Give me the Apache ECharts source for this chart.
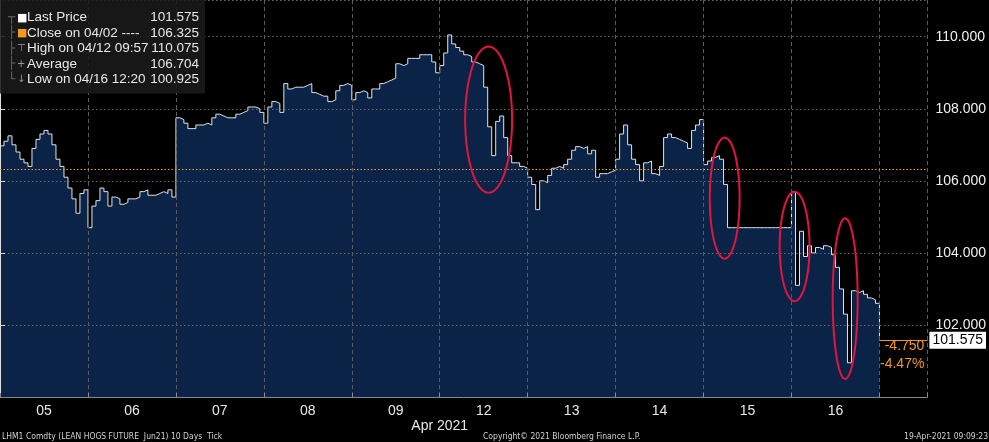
<!DOCTYPE html>
<html>
<head>
<meta charset="utf-8">
<script src="https://cdn.jsdelivr.net/npm/echarts@6/dist/echarts.min.js"></script>
<style>
html,body{margin:0;padding:0;background:#000;}
#chart{width:989px;height:442px;}
</style>
</head>
<body>
<div id="chart"></div>
<script>
// ---- data ----
const dayLabels = ['05','06','07','08','09','12','13','14','15','16'];
const monthLabel = 'Apr 2021';

const day05 = [106.97,107.1,107.25,107.0,106.8,106.6,106.5,106.4,106.9,107.15,107.3,107.4,107.3,107.0,106.6,106.4,106.1,105.8,105.5,105.1,105.65,105.75];
const day06 = [104.7,105.3,105.45,105.8,105.7,105.3,105.55,105.5,105.35,105.4,105.5,105.5,105.55,105.7,105.75,105.6,105.6,105.65,105.7,105.65,105.75,105.55];
const day07 = [107.75,107.7,107.6,107.45,107.45,107.55,107.55,107.6,107.55,107.75,107.85,107.8,107.75,107.75,107.75,107.85,107.9,107.95,108.05,108.05,108.0,107.9];
const day08 = [107.6,108.05,108.2,108.15,107.9,108.7,108.55,108.6,108.6,108.6,108.65,108.7,108.45,108.4,108.35,108.35,108.2,108.25,108.5,108.65,108.7,108.65];
const day09 = [108.25,108.45,108.5,108.45,108.3,108.55,108.55,108.7,108.75,108.8,108.85,109.25,109.2,109.25,109.4,109.4,109.4,109.5,109.5,109.5,109.3,109.0];
const day12 = [109.2,109.55,110.05,109.8,109.7,109.6,109.5,109.45,109.3,109.25,109.2,108.6,107.5,106.7,107.65,107.8,107.2,106.7,106.5,106.5,106.4,106.35];
const day13 = [106.1,105.9,105.2,106.0,105.95,106.15,106.35,106.4,106.35,106.45,106.6,106.85,106.95,106.9,106.95,106.75,106.85,106.1,106.2,106.2,106.25,106.3];
const day14 = [106.6,107.3,107.55,107.0,106.6,106.45,106.0,106.5,106.55,106.2,106.15,106.4,107.2,107.3,107.2,107.15,107.1,107.05,106.9,107.4,107.55,107.7];
const day15 = [106.45,106.55,106.65,106.7,106.6,105.9,104.7,104.7,104.7,104.7,104.7,104.7,104.7,104.7,104.7,104.7,104.7,104.7,104.7,104.7,104.7,104.7];
const day16 = [105.7,103.1,104.6,103.9,104.2,104.0,104.15,104.1,104.2,104.15,103.95,103.6,103.0,102.3,100.95,102.95,102.9,102.95,102.85,102.75,102.7,102.6];

const lastPrice = 101.575;
const closePrev = 106.325;
const highPrice = 110.075;
const avgPrice = 106.704;
const lowPrice = 100.925;

// annotation ellipses: [centre day, centre price, half-width (days), half-height (price)]
const highlights = [
  [5.556, 107.70, 0.267, 2.03],
  [8.24, 105.52, 0.17, 1.68],
  [9.035, 104.18, 0.17, 1.52],
  [9.61, 102.73, 0.142, 2.23]
];

// ---- build ----
const days = [day05, day06, day07, day08, day09, day12, day13, day14, day15, day16];
const seriesData = [];
days.forEach((arr, d) => arr.forEach((v, i) => seriesData.push([d + i / arr.length, v])));
seriesData.push([days.length, lastPrice]);

const xMax = 10.545;
const change = lastPrice - closePrev;
const changeTxt = change.toFixed(3);
const pctTxt = (change / closePrev * 100).toFixed(2) + '%';

const FONT = "'Liberation Sans', Arial, sans-serif";
const NARROW = "'Liberation Sans Narrow', 'DejaVu Sans Condensed', 'Liberation Sans', sans-serif";

const legendLines = [
  '{tree|┬}{sqW|■}{lbl|Last Price}{val|' + lastPrice.toFixed(3) + '}',
  '{tree|├}{sqO|■}{lbl|Close on 04/02 ----}{val|' + closePrev.toFixed(3) + '}',
  '{tree|├}{ic|⊤}{lbl|High on 04/12 09:57}{val|' + highPrice.toFixed(3) + '}',
  '{tree|├}{ic|+}{lbl|Average}{val|' + avgPrice.toFixed(3) + '}',
  '{tree|└}{ic|↓}{lbl|Low on 04/16 12:20}{val|' + lowPrice.toFixed(3) + '}'
].join('\n');

const LH = 15.5;
const footStyle = { color: '#d0d0d0', fontSize: 8.5, fontWeight: 'normal', fontFamily: NARROW };
const chart = echarts.init(document.getElementById('chart'));
chart.setOption({
  animation: false,
  backgroundColor: '#000',
  title: [
    {
      left: 0, top: 0,
      padding: [10, 6, 6, 8],
      backgroundColor: 'rgba(26,26,26,0.88)',
      text: legendLines,
      textStyle: {
        color: '#e8e8e8', fontSize: 13.5, fontWeight: 'normal', fontFamily: FONT, lineHeight: LH,
        rich: {
          tree: { fontFamily: "'DejaVu Sans Mono', monospace", fontSize: 12, color: '#666', width: 9, lineHeight: LH },
          sqW: { color: '#ffffff', fontSize: 11, width: 10, lineHeight: LH, fontFamily: "'DejaVu Sans', sans-serif" },
          sqO: { color: '#f39a1e', fontSize: 11, width: 10, lineHeight: LH, fontFamily: "'DejaVu Sans', sans-serif" },
          ic: { color: '#9a9a9a', fontSize: 10, width: 10, lineHeight: LH, fontFamily: "'DejaVu Sans', sans-serif" },
          lbl: { color: '#e8e8e8', fontSize: 13.5, width: 126, lineHeight: LH, fontFamily: FONT },
          val: { color: '#e8e8e8', fontSize: 13.5, width: 46, align: 'right', lineHeight: LH, fontFamily: FONT }
        }
      }
    },
    { left: 2, top: 432, padding: 0, text: 'LHM1 Comdty (LEAN HOGS FUTURE  Jun21) 10 Days  Tick', textStyle: footStyle },
    { left: 483, top: 432, padding: 0, text: 'Copyright\u00A9 2021 Bloomberg Finance L.P.', textStyle: footStyle },
    { right: 1, top: 432, padding: 0, text: '19-Apr-2021 09:09:23', textStyle: footStyle }
  ],
  grid: { left: 0, right: 60, top: -2, bottom: 45, containLabel: false },
  xAxis: [
    {
      type: 'value', min: 0, max: xMax, interval: 1, position: 'bottom', z: 3,
      axisLine: { show: true, lineStyle: { color: '#8a8a8a', width: 1 } },
      axisTick: { show: true, inside: true, length: 4, lineStyle: { color: '#8a8a8a' } },
      splitLine: { show: true, lineStyle: { color: '#5c5c5c', type: [4, 3], width: 1 } },
      axisLabel: {
        customValues: dayLabels.map((_, i) => i + 0.5),
        formatter: v => dayLabels[Math.floor(v)],
        color: '#e8e8e8', fontSize: 14, fontFamily: FONT, margin: 7
      }
    },
    {
      type: 'value', min: 0, max: xMax, interval: 1, position: 'bottom', z: 3,
      axisLine: { show: false }, axisTick: { show: false }, splitLine: { show: false },
      axisLabel: {
        customValues: [5],
        formatter: () => monthLabel,
        color: '#e8e8e8', fontSize: 14, fontFamily: FONT, margin: 22
      }
    }
  ],
  yAxis: {
    type: 'value', position: 'right', min: 100, max: 111.02, interval: 2, z: 3,
    axisLine: { show: true, lineStyle: { color: '#e0e0e0', width: 1 } },
    axisTick: { show: true, length: 5, lineStyle: { color: '#e0e0e0' } },
    splitLine: { show: true, lineStyle: { color: '#6a6a6a', type: [1.5, 2.5], width: 1 } },
    axisLabel: {
      showMinLabel: false, showMaxLabel: false,
      formatter: v => v.toFixed(3),
      color: '#f0f0f0', fontSize: 14, fontFamily: FONT, margin: 8
    }
  },
  series: [
    {
      type: 'line', step: 'end', showSymbol: false, z: 2,
      data: seriesData,
      lineStyle: { color: '#dfe3ea', width: 1 },
      areaStyle: { color: '#0a2346', opacity: 1, origin: 'start' },
      markLine: {
        silent: true, symbol: 'none', animation: false,
        data: [
          { yAxis: closePrev, lineStyle: { color: '#f0a020', type: [1.5, 2], width: 1 }, label: { show: false } },
          [
            { coord: [days.length, lastPrice], lineStyle: { color: '#f39a1e', type: 'solid', width: 1 },
              label: { show: true, position: 'end', distance: 2, formatter: lastPrice.toFixed(3),
                       backgroundColor: '#ffffff', color: '#000', fontSize: 14, fontFamily: FONT, padding: [2, 3, 1, 3] } },
            { coord: [xMax, lastPrice] }
          ]
        ]
      },
      markPoint: {
        silent: true, symbol: 'circle', symbolSize: 0, animation: false,
        data: [{
          coord: [xMax, lastPrice],
          label: {
            show: true, position: 'inside', align: 'right', verticalAlign: 'top', offset: [-3, -3],
            formatter: changeTxt + '\n' + pctTxt,
            color: '#f39a1e', fontSize: 14, lineHeight: 18, fontFamily: FONT
          }
        }]
      }
    },
    {
      type: 'custom', z: 5, silent: true, clip: false,
      data: highlights,
      renderItem: (params, api) => {
        const c = api.coord([api.value(0), api.value(1)]);
        const s = api.size([api.value(2), api.value(3)]);
        const pts = [];
        for (let k = 0; k < 72; k++) {
          const a = k / 72 * Math.PI * 2;
          pts.push([c[0] + s[0] * Math.cos(a), c[1] + s[1] * Math.sin(a)]);
        }
        return { type: 'polygon', shape: { points: pts }, style: { fill: 'none', stroke: '#e0163e', lineWidth: 2 } };
      }
    }
  ]
});
</script>
</body>
</html>
